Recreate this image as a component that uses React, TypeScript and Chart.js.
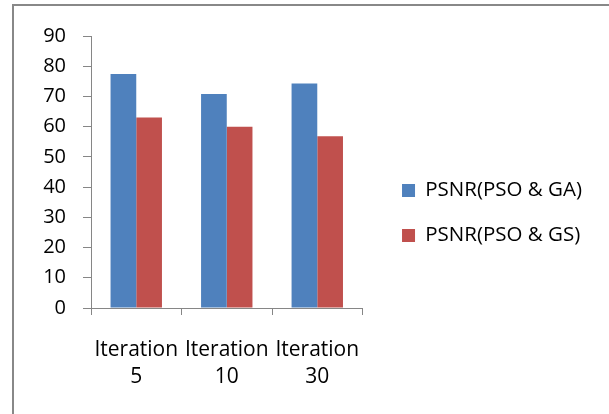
import React, { useEffect, useRef } from "react";
import { Chart, registerables } from "chart.js";

Chart.register(...registerables);

const categories: string[][] = [
  ["Iteration", "5"],
  ["Iteration", "10"],
  ["Iteration", "30"],
];
const seriesNames: string[] = ["PSNR(PSO & GA)", "PSNR(PSO & GS)"];
const psnrPsoGa: number[] = [77.4, 70.8, 74.3];
const psnrPsoGs: number[] = [63.0, 60.0, 56.8];
const yTicks: number[] = [0, 10, 20, 30, 40, 50, 60, 70, 80, 90];

const FONT = "'Open Sans', 'Noto Sans', sans-serif";
const AXIS_GRAY = "#868686";

export default function App() {
  const canvasRef = useRef<HTMLCanvasElement | null>(null);

  useEffect(() => {
    if (!canvasRef.current) return;
    const chart = new Chart(canvasRef.current, {
      type: "bar",
      data: {
        labels: categories,
        datasets: [
          {
            label: seriesNames[0],
            data: psnrPsoGa,
            backgroundColor: "#4F81BD",
            borderWidth: 0,
          },
          {
            label: seriesNames[1],
            data: psnrPsoGs,
            backgroundColor: "#C0504D",
            borderWidth: 0,
          },
        ],
      },
      options: {
        responsive: false,
        animation: false,
        devicePixelRatio: 1,
        layout: { padding: { top: 36, left: 0, right: 17, bottom: 24 } },
        datasets: {
          bar: { categoryPercentage: 0.568, barPercentage: 1 },
        },
        plugins: {
          tooltip: { enabled: false },
          title: { display: false },
          legend: {
            display: true,
            position: "right",
            maxWidth: 400,
            labels: {
              boxWidth: 13,
              boxHeight: 13,
              padding: 24.5,
              color: "#000",
              font: { family: FONT, size: 20.5 },
            },
          },
        },
        scales: {
          x: {
            offset: true,
            grid: {
              display: true,
              drawOnChartArea: false,
              drawTicks: true,
              tickLength: 7,
              color: AXIS_GRAY,
              offset: true,
            },
            border: { display: true, color: AXIS_GRAY, width: 1 },
            ticks: {
              color: "#000",
              padding: 21,
              maxRotation: 0,
              autoSkip: false,
              font: { family: FONT, size: 21, lineHeight: 1.29 },
            },
            afterFit: (s: any) => {
              s.height = 82;
            },
          },
          y: {
            min: 0,
            max: 90,
            afterBuildTicks: (s: any) => {
              s.ticks = yTicks.map((v) => ({ value: v }));
            },
            grid: {
              display: true,
              drawOnChartArea: false,
              drawTicks: true,
              tickLength: 8,
              color: AXIS_GRAY,
            },
            border: { display: true, color: AXIS_GRAY, width: 1 },
            ticks: {
              color: "#000",
              padding: 17,
              font: { family: FONT, size: 20 },
            },
            afterFit: (s: any) => {
              s.width = 91;
            },
          },
          spacer: {
            type: "linear",
            position: "right",
            display: true,
            grid: { display: false },
            border: { display: false },
            ticks: { display: false },
            afterFit: (s: any) => {
              s.width = 15;
            },
          },
        },
      },
    });
    return () => chart.destroy();
  }, []);

  return (
    <div
      style={{
        position: "absolute",
        left: 0,
        top: 0,
        width: 609,
        height: 414,
        overflow: "hidden",
        background: "#fff",
      }}
    >
      <div
        style={{
          position: "absolute",
          left: 12,
          top: 4,
          width: 700,
          height: 500,
          borderLeft: "2px solid #888888",
          borderTop: "2px solid #888888",
        }}
      />
      <canvas
        ref={canvasRef}
        width={609}
        height={414}
        style={{ position: "absolute", left: 0, top: 0, width: 609, height: 414 }}
      />
    </div>
  );
}
